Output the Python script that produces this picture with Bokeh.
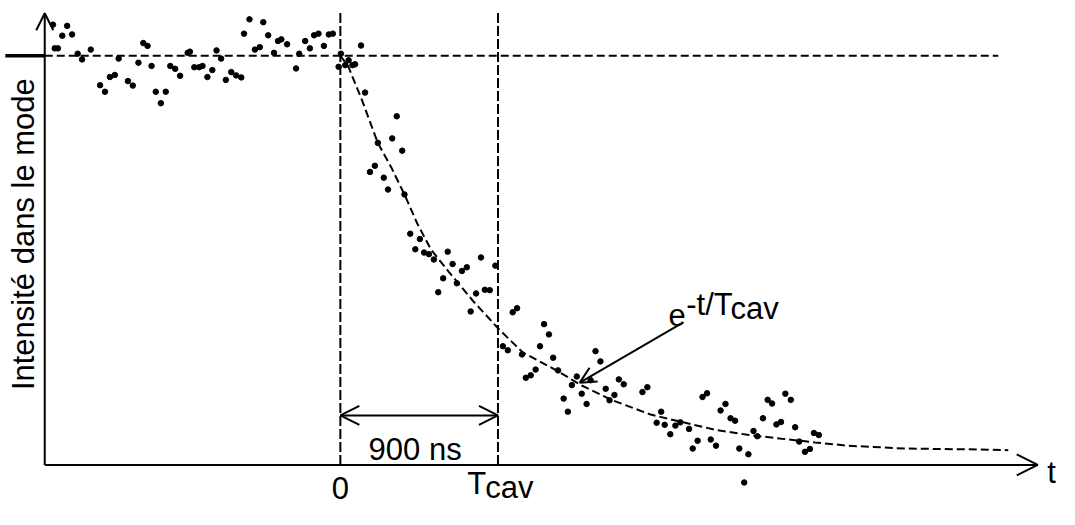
from bokeh.plotting import figure
from bokeh.models import Range1d, Arrow, OpenHead
from bokeh.core.properties import value
from bokeh.embed import file_html
from bokeh.resources import INLINE

# ---- data: time t (ns, 0 = switch-off) and intensity in the mode (% of steady level)
t_before = [-1641, -1560, -1588, -1532, -1631, -1613, -1500, -1475, -1425, -1372,
            -1344, -1316, -1288, -1266, -1213, -1185, -1153, -1125, -1101, -1078,
            -1054, -1025, -997, -971, -943, -915, -872, -859, -834, -806,
            -787, -759, -731, -707, -681, -654, -623, -595, -566, -550,
            -519, -488, -460, -440, -412, -379, -356, -337, -304, -253,
            -235, -201, -174, -150, -125, -94, -66, -43]
i_before = [107.6, 107.3, 104.9, 105.2, 101.8, 101.8, 100.5, 99.1, 101.5, 92.8,
            91.2, 94.8, 95.3, 99.3, 93.8, 92.7, 98.3, 103.1, 102.4, 97.5,
            91.2, 88.4, 91.2, 97.5, 96.8, 95.1, 100.7, 101.0, 97.2, 97.2,
            97.5, 94.8, 96.5, 101.3, 99.3, 94.1, 96.0, 95.2, 94.7, 105.4,
            108.9, 101.5, 102.1, 108.2, 105.0, 100.7, 103.6, 104.0, 102.8, 96.9,
            100.5, 103.6, 101.8, 105.0, 105.4, 102.4, 105.2, 105.4]

t_after = [-10, 3, 28, 47, 69, 84, 118, 141, 214, 169,
           197, 248, 272, 296, 322, 353, 366, 399, 428, 454,
           478, 506, 534, 559, 587, 613, 641, 665, 694, 722,
           744, 775, 803, 825, 853, 885, 928, 956, 984, 1009,
           1037, 1059, 1087, 1115, 1140, 1163, 1191, 1215, 1243, 1275,
           1299, 1322, 1350, 1378, 1406, 1429, 1457, 1485, 1515, 1537,
           1565, 1590, 1618, 1725, 1753, 1806, 1832, 1852, 1884, 1913,
           1941, 1991, 2012, 2040, 2068, 2094, 2115, 2145, 2171, 2199,
           2228, 2254, 2278, 2306, 2330, 2359, 2381, 2413, 2440, 2465,
           2490, 2516, 2541, 2572, 2597, 2620, 2653, 2681, 2704, 2732]
i_after = [97.3, 100.5, 97.7, 98.9, 97.7, 97.9, 102.5, 91.0, 78.7, 71.6,
           73.1, 70.2, 67.3, 79.8, 85.2, 76.8, 66.1, 56.5, 52.7, 55.2,
           51.9, 51.5, 50.2, 42.2, 45.6, 52.1, 49.1, 44.4, 47.4, 48.3,
           37.5, 41.9, 50.7, 42.8, 42.7, 48.7, 29.0, 28.0, 37.3, 38.3,
           27.0, 21.3, 21.9, 23.3, 29.0, 34.4, 31.9, 26.2, 23.1, 16.2,
           13.0, 19.5, 21.6, 17.4, 14.9, 20.7, 27.8, 25.3, 18.6, 15.8,
           17.1, 20.9, 19.7, 17.8, 19.0, 10.3, 13.0, 9.8, 7.5, 9.6,
           10.4, 8.8, 4.0, 5.9, 16.6, 17.5, 6.2, 4.7, 13.3, 14.9,
           11.4, 10.8, 4.0, -4.3, 2.6, 8.3, 7.0, 11.4, 15.9, 15.0,
           9.9, 10.5, 17.4, 15.9, 9.2, 5.7, 3.2, 3.9, 7.8, 7.3]

# dashed fitted decay curve e^(-t/Tcav)
t_fit = [0, 45, 124, 214, 293, 366, 439, 518, 619, 759, 900, 1041, 1238,
         1378, 1547, 1772, 1958, 2149, 2334, 2520, 2711, 2897, 3218, 3589, 3814]
i_fit = [100, 97.4, 89.1, 78.7, 72.5, 66.1, 59.0, 52.6, 47.2, 40.0, 33.4, 27.5, 23.0,
         19.4, 15.9, 12.3, 10.4, 8.5, 7.3, 6.4, 5.5, 4.7, 4.0, 3.8, 3.6]

T_CAV = 900          # ns
LEVEL = 100          # steady-state level

# ---- layout constants (data units)
X_MIN, X_MAX = -1940.6, 4106.3
Y_MIN, Y_MAX = -10.9, 113.5
T_AXIS = -1688       # position of the vertical axis
T_TIP = 3982         # tip of the time axis arrow
I_TIP = 110.4        # tip of the intensity axis arrow
H_END = 3757         # end of the dashed steady-level line
STUB = -1913         # start of the thick level mark
V_TOP = 111.1        # top of the vertical dashed lines

FONT = value("Liberation Sans")
FS = "31px"

p = figure(width=1059, height=509, output_backend="svg", toolbar_location=None,
           x_range=Range1d(X_MIN, X_MAX), y_range=Range1d(Y_MIN, Y_MAX),
           x_axis_type=None, y_axis_type=None, min_border=0)
p.outline_line_color = None
p.background_fill_color = "white"

# axes drawn as arrows
p.add_layout(Arrow(end=OpenHead(size=17, line_width=2), x_start=T_AXIS, y_start=0,
                   x_end=T_AXIS, y_end=I_TIP, line_width=2))
p.add_layout(Arrow(end=OpenHead(size=21, line_width=2), x_start=T_AXIS, y_start=0,
                   x_end=T_TIP, y_end=0, line_width=2))

# steady level: thick mark + dashed line
p.line([STUB, T_AXIS], [LEVEL, LEVEL], line_width=3.5, color="black")
p.line([T_AXIS, H_END], [LEVEL, LEVEL], line_width=2, color="black", line_dash="8 4")

# vertical dashed lines at 0 and Tcav
p.segment(x0=[0, T_CAV], y0=[0, 0], x1=[0, T_CAV], y1=[V_TOP, V_TOP],
          line_width=2, color="black", line_dash="10 3")

# fitted curve
p.line(t_fit, i_fit, line_width=2, color="black", line_dash="8 4")

# measured points
p.scatter(t_before + t_after, i_before + i_after, size=5.5, color="black")

# 900 ns double arrow
p.add_layout(Arrow(start=OpenHead(size=19, line_width=2), end=OpenHead(size=19, line_width=2),
                   x_start=0, y_start=12.1, x_end=T_CAV, y_end=12.1, line_width=2))
p.text(x=[427], y=[3.7], text=["900 ns"], text_font=FONT, text_font_size=FS,
       text_align="center", text_baseline="alphabetic", text_color="black")

# pointer to the curve
p.add_layout(Arrow(end=OpenHead(size=16, line_width=2), x_start=1941, y_start=34.4,
                   x_end=1367, y_end=20.1, line_width=2))
p.text(x=[1873], y=[36.7], text=["e"], text_font=FONT, text_font_size=FS,
       text_align="left", text_baseline="alphabetic")
p.text(x=[1975], y=[39.1], text=["-t/T"], text_font=FONT, text_font_size=FS,
       text_align="left", text_baseline="alphabetic")
p.text(x=[2228], y=[38.2], text=["cav"], text_font=FONT, text_font_size=FS,
       text_align="left", text_baseline="alphabetic")

# axis labels
p.text(x=[0], y=[-5.6], text=["0"], text_font=FONT, text_font_size=FS,
       text_align="center", text_baseline="alphabetic")
p.text(x=[T_CAV - 68], y=[-4.6], text=["T"], text_font=FONT, text_font_size=FS,
       text_align="right", text_baseline="alphabetic")
p.text(x=[T_CAV - 72], y=[-5.6], text=["cav"], text_font=FONT, text_font_size=FS,
       text_align="left", text_baseline="alphabetic")
p.text(x=[4036], y=[-1.9], text=["t"], text_font=FONT, text_font_size=FS,
       text_align="left", text_baseline="alphabetic")
p.text(x=[-1811], y=[56.4], text=["Intensité dans le mode"], text_font=FONT,
       text_font_size=FS, angle=1.5708, text_align="center", text_baseline="middle")

open("out.html", "w").write(file_html(p, INLINE))
